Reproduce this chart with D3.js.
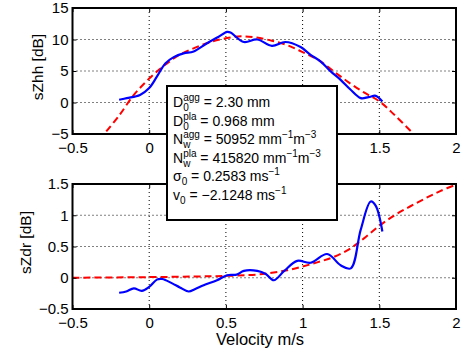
<!DOCTYPE html>
<html>
<head>
<meta charset="utf-8">
<script src="https://cdn.jsdelivr.net/npm/d3@7"></script>
<style>
  body { margin: 0; background: #fff; }
  text { font-family: "Liberation Sans", Arial, sans-serif; fill: #000; }
</style>
</head>
<body>
<div id="chart"></div>
<script>
// ---- data ----
const xTicks = [-0.5, 0, 0.5, 1, 1.5, 2];
const zhhTicks = [-5, 0, 5, 10, 15];
const zdrTicks = [-0.5, 0, 0.5, 1, 1.5];

// measured sZhh (blue)
const zhhMeasV = [-0.196, -0.146, -0.06, 0, 0.05, 0.105, 0.16, 0.224, 0.29, 0.377, 0.45, 0.508, 0.53, 0.617, 0.704, 0.80, 0.887, 0.987, 1.05, 1.118, 1.18, 1.248, 1.31, 1.379, 1.43, 1.477, 1.52];
const zhhMeas  = [0.43, 0.7, 1.2, 2.3, 4.1, 6.2, 7.2, 7.8, 8.1, 9.4, 10.4, 11.2, 11.1, 9.6, 10.0, 9.0, 9.6, 8.8, 7.6, 6.5, 5.0, 3.6, 2.1, 0.7, 0.85, 1.06, 0.16];
// modelled sZhh (red dashed)
const zhhFitV = [-0.28, -0.2, -0.1, 0, 0.1, 0.2, 0.3, 0.4, 0.5, 0.6, 0.7, 0.8, 0.9, 1.0, 1.1, 1.2, 1.3, 1.4, 1.5, 1.6, 1.72];
const zhhFit  = [-4.6, -2.2, 1.2, 3.8, 5.9, 7.6, 8.7, 9.6, 10.2, 10.5, 10.3, 9.8, 9.1, 8.0, 6.8, 5.0, 3.2, 1.6, 0.2, -2.0, -4.9];

// measured sZdr (blue)
const zdrMeasV = [-0.196, -0.15, -0.1, -0.048, 0, 0.05, 0.085, 0.15, 0.2, 0.257, 0.3, 0.355, 0.442, 0.508, 0.57, 0.617, 0.704, 0.76, 0.812, 0.88, 0.965, 1.052, 1.16, 1.248, 1.314, 1.379, 1.444, 1.477, 1.52];
const zdrMeas  = [-0.24, -0.22, -0.17, -0.21, -0.145, -0.03, -0.02, -0.09, -0.155, -0.22, -0.18, -0.12, -0.04, 0.04, 0.05, 0.11, 0.11, 0.06, -0.04, 0.11, 0.27, 0.24, 0.38, 0.20, 0.15, 0.77, 1.22, 1.15, 0.74];
// modelled sZdr (red dashed)
const zdrFitV = [-0.5, 0, 0.3, 0.5, 0.7, 0.8, 0.9, 1.0, 1.1, 1.2, 1.3, 1.4, 1.5, 1.6, 1.7, 1.8, 1.9, 2.0];
const zdrFit  = [0.0, 0.01, 0.02, 0.03, 0.05, 0.08, 0.12, 0.18, 0.25, 0.33, 0.45, 0.63, 0.83, 1.0, 1.14, 1.27, 1.39, 1.49];

// legend rows: symbol, superscript, subscript, then [text, superscript] pieces
const legendRows = [
  { base: 'D', sup: 'agg', sub: '0', rest: [[' = 2.30 mm', '']] },
  { base: 'D', sup: 'pla', sub: '0', rest: [[' = 0.968 mm', '']] },
  { base: 'N', sup: 'agg', sub: 'w', rest: [[' = 50952 mm', '\u22121'], ['m', '\u22123']] },
  { base: 'N', sup: 'pla', sub: 'w', rest: [[' = 415820 mm', '\u22121'], ['m', '\u22123']] },
  { base: '\u03c3', sup: '', sub: '0', rest: [[' = 0.2583 ms', '\u22121']] },
  { base: 'v', sup: '', sub: '0', rest: [[' = \u22122.1248 ms', '\u22121']] }
];

const W = 464, H = 356;
const L = 72.5, R = 456;
const svg = d3.select('#chart').append('svg')
  .attr('width', W).attr('height', H);

const x = d3.scaleLinear().domain([-0.5, 2]).range([L, R]);
const fmt = d => d3.format('')(d).replace('-', '\u2212');

function panel(top, bottom, yDomain, yTicks, measV, meas, fitV, fit, label, labelX) {
  const y = d3.scaleLinear().domain(yDomain).range([bottom, top]);
  const g = svg.append('g');
  const clipId = 'clip' + top;
  svg.append('clipPath').attr('id', clipId).append('rect')
    .attr('x', L).attr('y', top).attr('width', R - L).attr('height', bottom - top);

  // dotted grid
  g.selectAll('.gx').data(xTicks.slice(1, -1)).enter().append('line')
    .attr('x1', d => x(d)).attr('x2', d => x(d)).attr('y1', top).attr('y2', bottom)
    .attr('stroke', '#000').attr('stroke-width', 1).attr('stroke-dasharray', '1,3');
  g.selectAll('.gy').data(yTicks.slice(1, -1)).enter().append('line')
    .attr('x1', L).attr('x2', R).attr('y1', d => y(d)).attr('y2', d => y(d))
    .attr('stroke', '#000').attr('stroke-width', 1).attr('stroke-dasharray', '1,3');

  const line = d3.line().x(d => x(d[0])).y(d => y(d[1])).curve(d3.curveCatmullRom);
  g.append('path').datum(fitV.map((v, i) => [v, fit[i]]))
    .attr('d', line).attr('fill', 'none').attr('stroke', '#ff0000')
    .attr('stroke-width', 2).attr('stroke-dasharray', '7,4')
    .attr('clip-path', 'url(#' + clipId + ')');
  g.append('path').datum(measV.map((v, i) => [v, meas[i]]))
    .attr('d', line).attr('fill', 'none').attr('stroke', '#0000ff')
    .attr('stroke-width', 2.2).attr('clip-path', 'url(#' + clipId + ')');

  // axes with inward ticks
  const ax = [
    [d3.axisBottom(x).tickValues(xTicks).tickSizeInner(-4).tickSizeOuter(0).tickPadding(8).tickFormat(fmt), 0, bottom],
    [d3.axisTop(x).tickValues(xTicks).tickSizeInner(-4).tickSizeOuter(0).tickFormat(() => ''), 0, top],
    [d3.axisLeft(y).tickValues(yTicks).tickSizeInner(-4).tickSizeOuter(0).tickPadding(4).tickFormat(fmt), L, 0],
    [d3.axisRight(y).tickValues(yTicks).tickSizeInner(-4).tickSizeOuter(0).tickFormat(() => ''), R, 0]
  ];
  ax.forEach(a => {
    const ag = svg.append('g').attr('transform', 'translate(' + a[1] + ',' + a[2] + ')').call(a[0]);
    ag.select('.domain').remove();
    ag.selectAll('line').attr('stroke', '#000').attr('stroke-width', 1);
    ag.selectAll('text').attr('font-size', 15).attr('font-family', '"Liberation Sans", Arial, sans-serif').attr('fill', '#000');
  });

  g.append('rect').attr('x', L).attr('y', top).attr('width', R - L).attr('height', bottom - top)
    .attr('fill', 'none').attr('stroke', '#000').attr('stroke-width', 2);

  svg.append('text').attr('transform', 'translate(' + labelX + ',' + ((top + bottom) / 2 - 4) + ') rotate(-90)')
    .attr('text-anchor', 'middle').attr('font-size', 15.5).text(label);
  return y;
}

panel(8, 134, [-5, 15], zhhTicks, zhhMeasV, zhhMeas, zhhFitV, zhhFit, 'sZhh [dB]', 43);
panel(184, 309, [-0.5, 1.5], zdrTicks, zdrMeasV, zdrMeas, zdrFitV, zdrFit, 'sZdr [dB]', 31);

svg.append('text').attr('x', 260).attr('y', 345).attr('text-anchor', 'middle')
  .attr('font-size', 16.5).text('Velocity m/s');

// legend box
const lg = svg.append('g');
lg.append('rect').attr('x', 167).attr('y', 86).attr('width', 170).attr('height', 134)
  .attr('fill', '#fff').attr('stroke', '#000').attr('stroke-width', 2);

legendRows.forEach((r, i) => {
  const by = 107 + i * 18.6;
  let cx = 173;
  const t = lg.append('text').attr('x', cx).attr('y', by).attr('font-size', 14).text(r.base);
  cx += t.node().getComputedTextLength();
  let wSup = 0, wSub = 0;
  if (r.sup) {
    const s = lg.append('text').attr('x', cx).attr('y', by - 6).attr('font-size', 10).text(r.sup);
    wSup = s.node().getComputedTextLength();
  }
  if (r.sub) {
    const s = lg.append('text').attr('x', cx).attr('y', by + 4).attr('font-size', 10).text(r.sub);
    wSub = s.node().getComputedTextLength();
  }
  cx += Math.max(wSup, wSub);
  r.rest.forEach(p => {
    const m = lg.append('text').attr('x', cx).attr('y', by).attr('font-size', 14)
      .style('white-space', 'pre').text(p[0]);
    cx += m.node().getComputedTextLength();
    if (p[1]) {
      const s = lg.append('text').attr('x', cx).attr('y', by - 6).attr('font-size', 10).text(p[1]);
      cx += s.node().getComputedTextLength();
    }
  });
});
</script>
</body>
</html>
